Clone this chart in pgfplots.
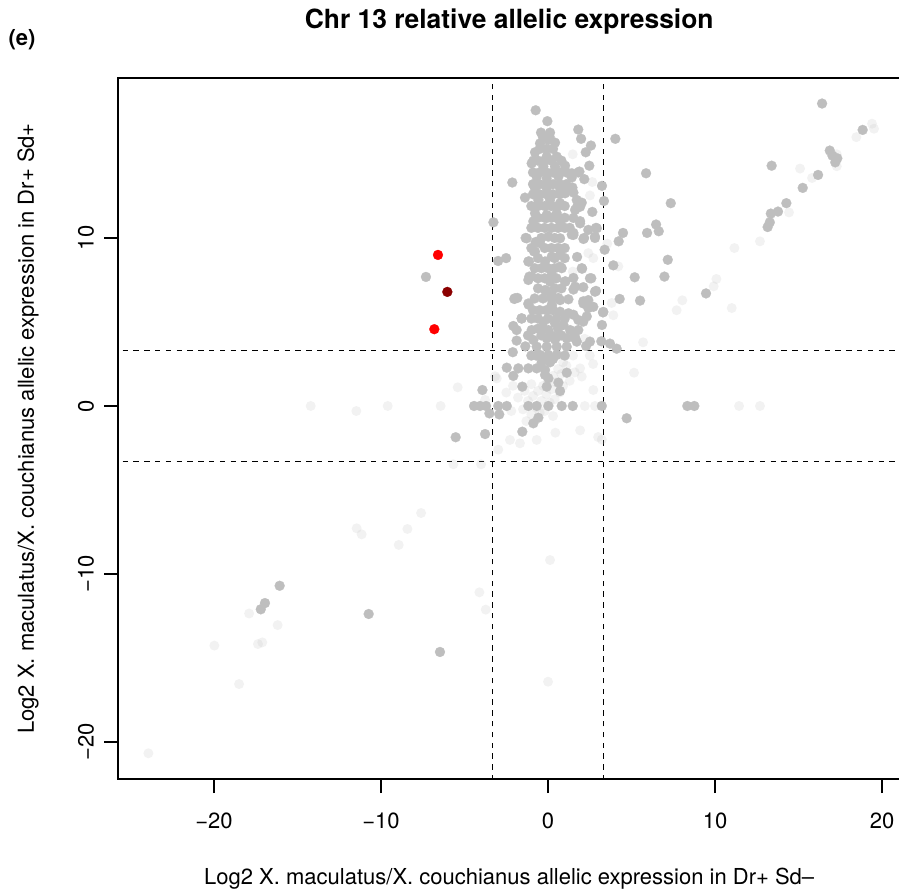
\documentclass[border=0pt]{standalone}
\usepackage{fontspec}
\setmainfont{TeX Gyre Heros}
\usepackage{pgfplots}
\pgfplotsset{compat=1.18}
\definecolor{dotgrey}{HTML}{BEBEBE}
\definecolor{rdot}{HTML}{FF0000}
\definecolor{drdot}{HTML}{8B0000}

\begin{document}
\begin{tikzpicture}
\begin{axis}[
  at={(59pt,55pt)}, anchor=south west,
  scale only axis, width=391.2pt, height=350.5pt,
  xmin=-25.75, xmax=21.1, ymin=-22.2, ymax=19.52,
  font=\fontsize{11}{13}\selectfont,
  axis line style={line width=0.6pt},
  tick style={line width=0.6pt, black},
  tick align=outside, tick pos=left, major tick length=7pt,
  xtick={-20,-10,0,10,20}, xticklabels={−20,−10,0,10,20},
  ytick={-20,-10,0,10}, yticklabels={−20,−10,0,10},
  xticklabel style={anchor=center, yshift=-14pt},
  yticklabel style={rotate=90, anchor=center, yshift=9pt},
  xlabel={Log2 X. maculatus/X. couchianus allelic expression in Dr+ Sd–},
  ylabel={Log2 X. maculatus/X. couchianus allelic expression in Dr+ Sd+},
  xlabel style={at={(axis description cs:0.5,0)}, anchor=center, yshift=-50pt},
  ylabel style={at={(axis description cs:0,0.5)}, anchor=center, yshift=45pt},
  title={Chr 13 relative allelic expression},
  title style={at={(axis description cs:0.5,1)}, anchor=center, yshift=22pt, font=\bfseries\fontsize{13.2}{15}\selectfont},
  clip mode=individual,
]
% threshold lines at +-log2(10)
\addplot [black, line width=0.45pt, dash pattern=on 2.7pt off 2.7pt] coordinates {(-3.3219,-30) (-3.3219,30)};
\addplot [black, line width=0.45pt, dash pattern=on 2.7pt off 2.7pt] coordinates {(3.3219,-30) (3.3219,30)};
\addplot [black, line width=0.45pt, dash pattern=on 2.7pt off 2.7pt] coordinates {(-30,-3.3219) (30,-3.3219)};
\addplot [black, line width=0.45pt, dash pattern=on 2.7pt off 2.7pt] coordinates {(-30,3.3219) (30,3.3219)};

% faint points
\addplot [only marks, mark=*, mark size=2.5pt, color=dotgrey, mark options={draw opacity=0, fill opacity=0.2, fill=dotgrey}] coordinates {
(-14.21,0) (-11.48,-0.3) (-9.6,0) (-11.46,-7.28) (-11.16,-7.64) (-8.94,-8.27) (-8.42,-7.32) (-7.6,-6.37)
(-17.9,-12.35) (-16.19,-13.04) (-19.98,-14.26) (-17.37,-14.17) (-17.11,-14.07) (-18.5,-16.55) (-23.93,-20.67)
(-6.43,0) (-5.41,1.11) (-5.67,-3.47) (-4.01,-3.47) (-3.77,0.36) (-4.11,-11.09) (-3.73,-12.12) (0.12,-9.17) (0,-16.41)
(19.4,16.8) (19.52,16.5) (18.46,16.0) (15.09,14.13) (15.81,13.57) (17.29,14.98) (17.29,14.27) (14.43,11.52)
(12.69,9.8) (11.16,9.4) (10.08,7.56) (9.92,7.12) (8.04,6.29) (7.7,5.7) (11.0,5.83) (3.81,6.13) (3.91,5.4)
(5.69,3.79) (5.15,1.98) (11.44,0) (12.69,0) (3.55,9.66) (4.21,8.31)
(1.48,14.98) (2.65,13.33) (2.51,12.53) (2.41,9.1) (2.71,8.8) (1.48,8.0) (-3.17,1.77) (-3.07,1.64)
(-2.98,-2.6) (-2.28,-2.02) (-1.68,-2.22) (-0.68,-2.02) (0.44,-1.59) (1.92,-1.45) (2.71,0.95) (2.2,0) (2.81,0)
(3.22,-2.0) (3.0,-1.85) (1.92,2.24) (2.02,1.75) (2.7,2.5) (2.5,3.0) (2.2,4.0)
(-1.5,-0.2) (-1.2,0.3) (-0.9,0.6) (-0.6,0.9) (-0.3,1.2) (0.0,1.5) (0.3,1.8) (0.6,2.2) (0.9,2.6)
(-1.0,-0.5) (-0.7,-0.1) (-0.4,0.3) (-0.1,0.7) (0.2,1.0) (0.5,1.4) (0.8,1.9) (1.1,2.4)
(-1.8,0.5) (-1.4,0.9) (-1.0,1.3) (0.4,0.4) (0.7,0.8) (1.3,1.5) (-2.2,-0.3) (-2.5,0.8) (-2.1,1.2)
(1.5,3.0) (-0.2,-0.3) (0.3,-0.6) (-1.3,-0.9) (-0.5,-0.4) (0.1,0.2) (0.9,1.2) (1.6,2.0)
};

% grey points
\addplot [only marks, mark=*, mark size=2.5pt, color=dotgrey, mark options={fill=dotgrey, draw=dotgrey, line width=0.1pt}] coordinates {
(-0.74,17.6) (-0.04,16.95) (1.81,16.45) (1.98,15.9) (4.03,15.9) (2.57,15.5) (2.26,15.1) (2.47,14.3)
(-2.14,13.3) (5.87,13.85) (7.35,12.07) (-3.27,10.93) (-1.38,12.4) (3.23,13.1) (3.35,12.2) (2.65,11.55)
(6.47,10.8) (6.63,10.4) (5.93,10.3) (4.49,10.3) (4.23,9.8) (7.17,8.7) (6.97,7.7) (5.19,7.66) (3.39,9.3)
(3.91,8.37) (4.29,6.37) (5.51,6.27) (3.29,5.57) (3.23,4.82) (3.19,3.85) (3.71,3.71) (4.11,3.41)
(-2.99,8.63) (-2.51,8.8) (-7.31,7.68) (-1.14,8.6) (-1.18,7.5) (-0.98,7.7) (-2.02,6.37) (-1.84,6.43)
(-1.16,6.03) (-1.58,5.2) (-2.08,4.76) (-1.88,3.89) (-1.36,3.55) (-2.11,3.2) (-1.34,10.0) (-0.74,9.76)
(-0.84,9.2) (1.74,8.87) (2.04,8.17) (2.59,7.6) (2.87,6.85) (1.04,7.42) (1.52,7.62) (1.52,6.93) (2.11,7.07)
(1.22,6.35) (2.11,6.23) (2.41,5.83) (1.52,5.43) (2.32,5.33) (0.62,6.43) (0.22,5.97) (-0.12,6.86) (0.12,7.62)
(0.82,8.2) (1.52,10.3) (2.16,10.0) (1.42,10.2) (1.92,11.0) (1.72,11.8) (2.02,12.1) (1.52,12.7) (1.12,12.8)
(1.46,13.0) (1.81,13.9) (2.17,13.5) (1.42,13.6) (1.02,14.3) (2.87,10.6) (2.81,10.0)
(-0.42,16.27) (0.12,16.27) (-0.48,15.63) (0.42,15.67) (0.02,15.83) (-0.78,15.1) (-0.98,14.44) (-0.88,14.6)
(-0.08,14.84) (0.52,14.84) (-0.28,14.25) (0.42,14.25) (1.42,13.85) (1.88,13.95) (-0.68,13.65) (-0.08,13.55)
(0.62,13.65) (-0.78,12.96) (-0.08,12.96) (0.72,12.96) (1.02,12.66) (1.72,12.26) (1.92,11.86) (1.62,11.67)
(-0.58,12.26) (0.12,12.26) (0.72,12.07) (-0.78,11.47) (-0.08,11.37) (0.52,11.47)
(-0.88,10.99) (-0.08,11.19) (0.72,10.99) (1.52,11.19) (1.92,10.87) (-1.28,9.98) (-0.58,9.78) (0.02,10.08)
(0.72,9.98) (1.52,10.18) (2.12,9.94) (2.81,10.08) (2.92,10.58) (2.41,10.48) (-1.18,8.6) (-0.78,9.19)
(-0.48,9.69) (-0.18,8.6) (0.22,8.89) (0.72,8.99) (0.72,8.29) (0.22,7.8) (0.12,7.4) (1.02,7.4) (2.51,7.6)
(2.02,8.2) (-1.12,7.7) (-0.18,6.9) (0.22,6.6) (0.72,6.3) (0.22,6.0) (1.62,7.1) (2.41,6.3) (2.12,6.1)
(2.71,5.9) (2.81,6.8) (3.31,5.6) (-1.98,6.41) (-1.18,6.1) (-1.58,5.22) (-1.88,4.52) (0.72,5.61) (1.22,5.52)
(1.81,5.12) (2.11,5.02) (-0.98,4.52) (-0.28,5.02) (0.02,4.52) (0.42,4.92) (0.92,4.82) (1.32,4.52) (1.81,4.52)
(-0.88,3.93) (-0.08,4.03) (0.52,4.12) (1.12,4.03) (1.72,3.83) (2.51,3.83) (0.42,3.95) (1.62,4.1)
(-0.68,3.53) (-0.08,3.53) (0.52,3.53) (1.12,3.53) (-0.48,3.04) (0.02,3.04) (0.52,3.04) (-0.38,2.6) (0.12,2.6)
(-0.18,2.14) (0.02,1.65) (-0.08,1.15) (-2.47,2.28) (-1.78,2.24) (-1.18,2.24) (-0.68,2.24) (-2.08,1.79)
(-1.54,1.15) (-0.18,1.85) (1.12,1.98) (0.62,1.39) (0.72,0.89) (-3.93,0.95) (2.28,3.57) (1.57,4.07)
(-4.43,0) (-4.07,0) (-3.71,0) (-2.98,0) (-2.47,0) (-1.18,0) (-0.68,0) (0.02,0) (0.82,0) (1.48,0) (3.22,0)
(-3.51,-0.44) (-2.92,-0.5) (-0.58,-0.7) (-0.88,-1.03) (-1.54,-1.53) (-3.77,-1.67) (4.71,-0.73) (-5.53,-1.86)
(8.34,0) (8.76,0)
(16.41,18.0) (18.84,16.43) (13.39,14.3) (16.87,15.2) (17.03,14.9) (17.25,14.7) (17.32,14.74) (17.2,14.5)
(16.17,13.75) (15.25,12.98) (14.27,12.07) (13.77,11.57) (13.34,11.45) (13.28,10.93) (13.15,10.65) (9.46,6.7)
(-16.07,-10.7) (-16.95,-11.73) (-17.2,-12.1) (-10.74,-12.38) (-6.47,-14.64)
(-0.3,16.0) (0.1,16.0) (-0.5,15.3) (-0.1,15.3) (0.3,15.3)
(-0.6,14.6) (-0.2,14.6) (0.2,14.6) (0.8,14.6)
(-0.9,13.9) (-0.5,13.9) (-0.1,13.9) (0.3,13.9) (0.7,13.9) (1.1,13.9)
(-0.9,13.2) (-0.5,13.2) (-0.1,13.2) (0.3,13.2) (0.7,13.2) (1.1,13.2)
(-0.9,12.6) (-0.5,12.6) (-0.1,12.6) (0.3,12.6) (0.7,12.6)
(-1.0,11.9) (-0.6,11.9) (-0.2,11.9) (0.2,11.9) (0.6,11.9) (1.0,11.9)
(-0.6,11.2) (-0.2,11.2) (0.2,11.2) (0.5,11.2) (1.0,11.2)
(-1.0,10.6) (-0.6,10.6) (-0.2,10.6) (0.2,10.6) (0.6,10.6) (1.0,10.6) (1.3,10.6)
(-0.4,10.0) (0.4,10.0) (-1.0,9.4) (-0.2,9.4) (0.2,9.4) (0.6,9.4) (1.0,9.4)
(-0.6,8.8) (0.4,8.8) (1.0,8.8) (-0.8,8.2) (-0.4,8.2) (0.0,8.2) (0.4,8.2)
(-0.6,7.6) (-0.2,7.6) (0.5,7.6) (-0.6,7.0) (0.4,7.0) (0.8,7.0)
(-0.8,6.4) (-0.3,6.4) (0.2,6.4) (-0.9,5.7) (-0.5,5.7) (-0.1,5.7) (0.3,5.7)
(-1.0,5.2) (-0.6,5.2) (0.0,5.2) (0.5,5.2) (1.0,5.2) (-0.6,4.6) (-0.3,4.6) (0.6,4.6)
(-1.2,4.2) (-0.4,4.2) (0.2,4.2) (0.8,4.2) (-1.0,3.0) (-0.7,3.0) (1.0,3.0) (-0.1,2.8) (0.3,2.8)
};

% highlighted genes
\addplot [only marks, mark=*, mark size=2.5pt, color=rdot, mark options={fill=rdot, draw=rdot, line width=0.1pt}] coordinates {(-6.59,8.99) (-6.81,4.57)};
\addplot [only marks, mark=*, mark size=2.5pt, color=drdot, mark options={fill=drdot, draw=drdot, line width=0.1pt}] coordinates {(-6.03,6.79)};

\node [font=\bfseries\fontsize{11}{13}\selectfont] at (rel axis cs:-0.1227,1.054) {(e)};
\end{axis}
\pgfresetboundingbox
\path [use as bounding box] (0,0) rectangle (449.5pt,444.5pt);
\end{tikzpicture}
\end{document}
